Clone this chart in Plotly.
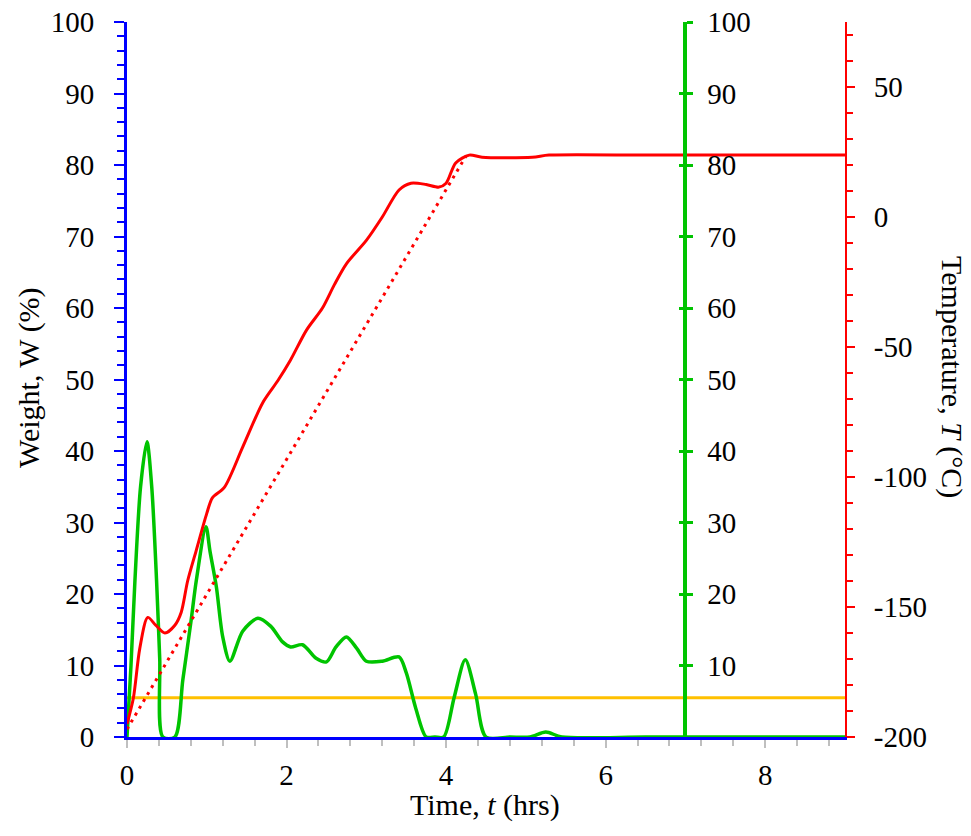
import plotly.graph_objects as go

# ---- data ----
t_weight = [0, 0.05, 0.1, 0.17, 0.25, 0.31, 0.37, 0.41, 0.45, 0.6, 0.7, 0.8, 0.87, 0.99, 1.04, 1.12, 1.2, 1.29,
            1.45, 1.64, 1.8, 1.95, 2.05, 2.2, 2.37, 2.5, 2.62, 2.75, 2.88, 3.0, 3.2, 3.41, 3.5, 3.62, 3.75,
            3.86, 3.97, 4.1, 4.24, 4.37, 4.5, 4.8, 5.05, 5.25, 5.45, 6.5, 7.5, 9]
weight = [0, 10, 22, 35, 41.3, 35, 22, 11, 0, 0, 8, 16, 22, 29.4, 26, 21, 14, 10.6,
          14.8, 16.6, 15.5, 13.3, 12.6, 12.9, 11, 10.5, 12.6, 14, 12.4, 10.6, 10.6, 11.2, 9, 4, 0,
          0, 0, 5.5, 10.8, 6, 0, 0, 0, 0.7, 0, 0, 0, 0]

t_temp = [0, 0.08, 0.16, 0.26, 0.36, 0.475, 0.6, 0.68, 0.76, 0.87, 1.0, 1.07, 1.22, 1.45, 1.7, 1.89, 2.05,
          2.25, 2.45, 2.6, 2.75, 3.0, 3.2, 3.41, 3.56, 3.75, 3.91, 4.0, 4.12, 4.29, 4.45, 5.08, 5.29,
          6.5, 7.5, 9]
temp = [-195, -185, -166, -154, -157, -160, -157, -152, -140, -128, -114, -108, -104, -88.5, -71.5, -63, -55,
        -43.5, -35, -26, -18, -9, 0, 10.4, 13, 12.5, 11.5, 13, 20.8, 23.8, 23, 23, 23.8,
        23.8, 23.8, 23.8]

t_setpoint = [0, 4.25]
temp_setpoint = [-197, 23.5]

t_level = [0, 9]
level = [5.5, 5.5]

temp_ticks = [-200, -150, -100, -50, 0, 50]
temp_ticktext = ["-200", "-150", "-100", "-50", "0", "50"]
x_ticks = [0, 2, 4, 6, 8]
w_ticks = [0, 10, 20, 30, 40, 50, 60, 70, 80, 90, 100]
g_ticks = [10, 20, 30, 40, 50, 60, 70, 80, 90, 100]

FONT = "Liberation Serif"
FS = 29
FS_TITLE = 30
GREEN = "#00C400"

# page offset (body margin) and target plot box in page pixels
OFF = 8
L, R, T, B = 127, 845, 22, 737
W, H = 971, 836
ml, mt = L - OFF, T - OFF
mr, mb = W - (R - OFF), H - (B - OFF)
pw, ph = R - L, B - T


def px(xp):
    return (xp - L) / pw


def py(yp):
    return (B - yp) / ph


fig = go.Figure()
fig.add_trace(go.Scatter(x=t_level, y=level, mode="lines", line=dict(color="#FFC000", width=3),
                         yaxis="y", showlegend=False))
fig.add_trace(go.Scatter(x=t_setpoint, y=temp_setpoint, mode="lines",
                         line=dict(color="#FF0000", width=3, dash="3px,5px"), yaxis="y2", showlegend=False))
fig.add_trace(go.Scatter(x=t_temp, y=temp, mode="lines",
                         line=dict(color="#FF0000", width=3, shape="spline", smoothing=0.8),
                         yaxis="y2", showlegend=False))
fig.add_trace(go.Scatter(x=t_weight, y=weight, mode="lines",
                         line=dict(color=GREEN, width=3.5, shape="spline", smoothing=0.8),
                         yaxis="y", showlegend=False))
fig.add_trace(go.Scatter(x=[None], y=[None], yaxis="y3", showlegend=False, hoverinfo="skip"))
fig.add_trace(go.Scatter(x=[None], y=[None], yaxis="y4", showlegend=False, hoverinfo="skip"))

fig.update_layout(
    width=W, height=H,
    margin=dict(l=ml, r=mr, t=mt, b=mb, autoexpand=False),
    plot_bgcolor="white", paper_bgcolor="white",
    font=dict(family=FONT, size=FS, color="black"),
    xaxis=dict(range=[0, 9], domain=[0, 1], tickvals=x_ticks, showgrid=False, zeroline=False,
               automargin=False, ticklabeloverflow="allow",
               showline=True, linecolor="#0000FF", linewidth=3, layer="below traces",
               ticks="outside", ticklen=8, tickwidth=2, tickcolor="#BFBFBF",
               minor=dict(dtick=0.4, tick0=0, ticks="outside", ticklen=6, tickwidth=2, tickcolor="#BFBFBF"),
               ticklabelstandoff=2),
    yaxis=dict(range=[0, 100], tickvals=w_ticks, showgrid=False, zeroline=False, automargin=False,
               ticklabeloverflow="allow",
               showline=True, linecolor="#0000FF", linewidth=3,
               ticks="outside", ticklen=10, tickwidth=2, tickcolor="#0000FF",
               minor=dict(dtick=2, ticks="outside", ticklen=7, tickwidth=2, tickcolor="#0000FF"),
               ticklabelstandoff=14),
    yaxis2=dict(range=[-200, 75], tickvals=temp_ticks, ticktext=temp_ticktext, overlaying="y", side="right",
                anchor="x", automargin=False, ticklabeloverflow="allow",
                showgrid=False, zeroline=False, showline=True, linecolor="#FF0000", linewidth=2,
                ticks="outside", ticklen=8, tickwidth=2, tickcolor="#FF0000",
                minor=dict(dtick=10, tick0=-200, ticks="outside", ticklen=6, tickwidth=2, tickcolor="#FF0000"),
                ticklabelstandoff=13),
    yaxis3=dict(range=[0, 100], tickvals=g_ticks, overlaying="y", side="right", anchor="free", position=7 / 9,
                automargin=False, ticklabeloverflow="allow",
                showgrid=False, zeroline=False, showline=True, linecolor=GREEN, linewidth=4,
                ticks="outside", ticklen=6, tickwidth=3, tickcolor=GREEN,
                ticklabelstandoff=8),
    yaxis4=dict(range=[0, 100], tickvals=w_ticks, overlaying="y", side="right", anchor="free", position=7 / 9,
                automargin=False,
                showgrid=False, zeroline=False, showline=False,
                ticks="inside", ticklen=6, tickwidth=3, tickcolor=GREEN, showticklabels=False),
    annotations=[
        dict(text="Temperature, <i>T</i> (°C)", textangle=90, x=px(952), y=py(377),
             xref="paper", yref="paper", showarrow=False, xanchor="center", yanchor="middle",
             font=dict(size=FS_TITLE)),
        dict(text="Weight, W (%)", textangle=-90, x=px(29), y=py(378),
             xref="paper", yref="paper", showarrow=False, xanchor="center", yanchor="middle",
             font=dict(size=FS_TITLE)),
        dict(text="Time, <i>t</i> (hrs)", x=px(485), y=py(805),
             xref="paper", yref="paper", showarrow=False, xanchor="center", yanchor="middle",
             font=dict(size=FS_TITLE)),
    ],
)

fig.write_html("out.html")
